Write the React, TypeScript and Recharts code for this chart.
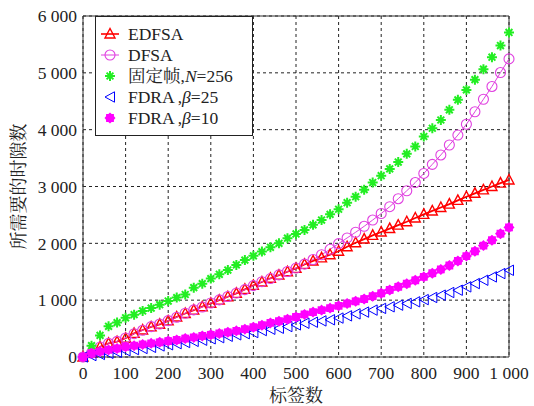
import React from 'react';
import { LineChart, Line, XAxis, YAxis, CartesianGrid, ReferenceLine } from 'recharts';

// number of tags (x)
const tags = [
  0, 20, 40, 60, 80, 100, 120, 140, 160, 180, 200, 220, 240, 260, 280, 300, 320, 340, 360, 380,
  400, 420, 440, 460, 480, 500, 520, 540, 560, 580, 600, 620, 640, 660, 680, 700, 720, 740, 760, 780,
  800, 820, 840, 860, 880, 900, 920, 940, 960, 980, 1000,
];

const edfsa = [
  0, 75, 180, 240, 270, 330, 415, 475, 530, 575, 635, 705, 765, 825, 885, 945, 1000, 1060, 1120, 1190,
  1260, 1320, 1385, 1440, 1500, 1560, 1630, 1690, 1745, 1800, 1860, 1940, 2010, 2075, 2140, 2200, 2260, 2320, 2380, 2445,
  2510, 2570, 2630, 2690, 2755, 2820, 2880, 2940, 3000, 3060, 3115,
];

const dfsa = [
  0, 70, 175, 240, 275, 335, 410, 470, 535, 580, 640, 700, 770, 830, 880, 950, 1005, 1065, 1125, 1185,
  1255, 1325, 1380, 1445, 1505, 1565, 1635, 1715, 1800, 1895, 1995, 2095, 2195, 2300, 2410, 2525, 2645, 2785, 2925, 3070,
  3230, 3390, 3555, 3730, 3905, 4095, 4315, 4535, 4760, 5005, 5245,
];

const fixedFrame = [
  0, 200, 380, 540, 605, 690, 745, 810, 860, 920, 985, 1045, 1100, 1220, 1290, 1380, 1455, 1530, 1620, 1705,
  1780, 1855, 1930, 2000, 2090, 2165, 2235, 2325, 2410, 2510, 2600, 2715, 2820, 2945, 3070, 3190, 3310, 3430, 3575, 3705,
  3880, 4025, 4170, 4350, 4525, 4700, 4880, 5065, 5275, 5480, 5710,
];

const fdra25 = [
  0, 25, 45, 65, 85, 110, 130, 150, 170, 195, 215, 235, 255, 275, 295, 320, 340, 365, 390, 410,
  430, 465, 488, 506, 535, 565, 594, 612, 635, 655, 685, 724, 759, 790, 825, 855, 883, 912, 942, 971,
  1010, 1047, 1088, 1135, 1175, 1234, 1292, 1351, 1409, 1468, 1526,
];

const fdra10 = [
  0, 65, 95, 125, 150, 180, 200, 222, 240, 258, 280, 300, 325, 345, 370, 390, 415, 435, 460, 490,
  525, 560, 600, 630, 665, 705, 750, 790, 825, 860, 900, 940, 980, 1020, 1070, 1120, 1180, 1235, 1290, 1350,
  1410, 1475, 1540, 1610, 1690, 1775, 1860, 1960, 2055, 2170, 2280,
];

const xTicks = [0, 100, 200, 300, 400, 500, 600, 700, 800, 900, 1000];
const yTicks = [0, 1000, 2000, 3000, 4000, 5000, 6000];

const data = tags.map((t, i) => ({
  tags: t,
  edfsa: edfsa[i],
  dfsa: dfsa[i],
  fixedFrame: fixedFrame[i],
  fdra25: fdra25[i],
  fdra10: fdra10[i],
}));

const FONT = "'Liberation Serif', 'Times New Roman', 'Noto Serif CJK SC', 'Noto Sans CJK SC', serif";
const RED = '#ff0000';
const PINK = '#e040e0';
const GREEN = '#22ee22';
const BLUE = '#0000ff';
const MAGENTA = '#ff00ff';

const fmt = (v: number) =>
  v >= 1000 ? `${Math.floor(v / 1000)} ${String(v % 1000).padStart(3, '0')}` : String(v);

const triUp = (cx: number, cy: number, key?: any) => (
  <polygon
    key={key}
    points={`${cx},${cy - 5.5} ${cx - 5},${cy + 4} ${cx + 5},${cy + 4}`}
    fill="none"
    stroke={RED}
    strokeWidth={1.4}
  />
);

const circ = (cx: number, cy: number, key?: any) => (
  <circle key={key} cx={cx} cy={cy} r={5} fill="none" stroke={PINK} strokeWidth={1.1} />
);

const star = (cx: number, cy: number, key?: any) => (
  <path
    key={key}
    d={`M${cx - 5},${cy}H${cx + 5}M${cx},${cy - 5}V${cy + 5}M${cx - 3.4},${cy - 3.4}L${cx + 3.4},${cy + 3.4}M${cx - 3.4},${cy + 3.4}L${cx + 3.4},${cy - 3.4}`}
    stroke={GREEN}
    strokeWidth={2}
    fill="none"
  />
);

const triLeft = (cx: number, cy: number, key?: any) => (
  <polygon
    key={key}
    points={`${cx - 5},${cy} ${cx + 4.5},${cy - 5.2} ${cx + 4.5},${cy + 5.2}`}
    fill="none"
    stroke={BLUE}
    strokeWidth={1}
  />
);

const blob = (cx: number, cy: number, key?: any) => {
  const pts: string[] = [];
  for (let k = 0; k < 16; k++) {
    const a = (Math.PI * k) / 8;
    const r = k % 2 === 0 ? 5.5 : 4.3;
    pts.push(`${cx + r * Math.cos(a)},${cy + r * Math.sin(a)}`);
  }
  return <polygon key={key} points={pts.join(' ')} fill={MAGENTA} stroke="none" />;
};

const dotOf = (fn: (cx: number, cy: number, key?: any) => React.ReactElement) => (p: any) =>
  fn(p.cx, p.cy, `d-${p.index}`);

const Legend = () => {
  const rows = [
    { y: 18, icon: (x: number, y: number) => (
      <g>
        <line x1={x - 9} y1={y} x2={x + 9} y2={y} stroke={RED} strokeWidth={1.6} />
        {triUp(x, y)}
      </g>
    ), text: <tspan>EDFSA</tspan> },
    { y: 39, icon: (x: number, y: number) => (
      <g>
        <line x1={x - 9} y1={y} x2={x + 9} y2={y} stroke={PINK} strokeWidth={1} />
        {circ(x, y)}
      </g>
    ), text: <tspan>DFSA</tspan> },
    { y: 60, icon: star, text: (
      <>
        <tspan>固定帧,</tspan>
        <tspan fontStyle="italic">N</tspan>
        <tspan>=256</tspan>
      </>
    ) },
    { y: 81, icon: triLeft, text: (
      <>
        <tspan>FDRA</tspan>
        <tspan dx={3}>,</tspan>
        <tspan fontStyle="italic">β</tspan>
        <tspan>=25</tspan>
      </>
    ) },
    { y: 102, icon: blob, text: (
      <>
        <tspan>FDRA</tspan>
        <tspan dx={3}>,</tspan>
        <tspan fontStyle="italic">β</tspan>
        <tspan>=10</tspan>
      </>
    ) },
  ];
  return (
    <svg width={158} height={120} style={{ position: 'absolute', left: 95, top: 16 }}>
      <rect x={0.5} y={0.5} width={157} height={119} fill="#fff" stroke="#222" strokeWidth={1} />
      {rows.map((r, i) => (
        <g key={i}>
          {r.icon(15, r.y)}
          <text x={33} y={r.y + 6} fontFamily={FONT} fontSize={17.5} fill="#222">
            {r.text}
          </text>
        </g>
      ))}
    </svg>
  );
};

export default function App() {
  return (
    <div style={{ position: 'absolute', left: 0, top: 0, width: 534, height: 406, background: '#fff' }}>
      <LineChart width={534} height={406} data={data} margin={{ top: 16, right: 25, bottom: 0, left: 0 }}>
        <CartesianGrid stroke="#222" strokeDasharray="3 3" />
        <XAxis
          dataKey="tags"
          type="number"
          domain={[0, 1000]}
          ticks={xTicks}
          interval={0}
          tickFormatter={fmt}
          height={49}
          tickLine={false}
          tickSize={6}
          tickMargin={4}
          axisLine={{ stroke: '#333' }}
          tick={{ fontFamily: FONT, fontSize: 17.5, fill: '#222' }}
          label={{ value: '标签数', position: 'insideBottom', offset: 4, fontFamily: FONT, fontSize: 18, fill: '#222' }}
        />
        <YAxis
          type="number"
          domain={[0, 6000]}
          ticks={yTicks}
          interval={0}
          tickFormatter={fmt}
          width={83}
          tickLine={false}
          tickSize={4}
          tickMargin={2}
          axisLine={{ stroke: '#333' }}
          tick={{ fontFamily: FONT, fontSize: 17.5, fill: '#222' }}
          label={{
            value: '所需要的时隙数',
            angle: -90,
            position: 'insideLeft',
            offset: 19,
            fontFamily: FONT,
            fontSize: 18,
            fill: '#222',
            style: { textAnchor: 'middle' },
          }}
        />
        <ReferenceLine x={1000} stroke="#333" />
        <ReferenceLine y={6000} stroke="#333" />
        <Line dataKey="edfsa" stroke={RED} strokeWidth={1.8} dot={dotOf(triUp)} isAnimationActive={false} />
        <Line dataKey="dfsa" stroke={PINK} strokeWidth={1} dot={dotOf(circ)} isAnimationActive={false} />
        <Line dataKey="fixedFrame" stroke="none" dot={dotOf(star)} isAnimationActive={false} />
        <Line dataKey="fdra25" stroke="none" dot={dotOf(triLeft)} isAnimationActive={false} />
        <Line dataKey="fdra10" stroke="none" dot={dotOf(blob)} isAnimationActive={false} />
      </LineChart>
      <Legend />
    </div>
  );
}
